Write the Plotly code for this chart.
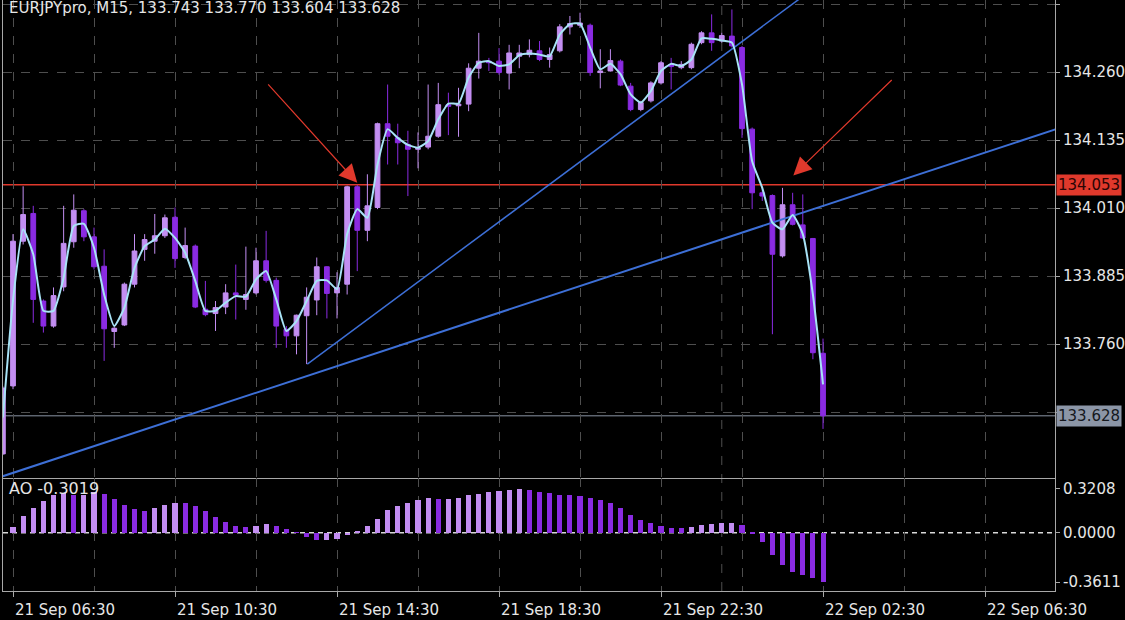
import pandas as pd
import plotly.graph_objects as go

# ---------------- data ----------------
bar_times = pd.date_range("2017-09-21 06:15", periods=82, freq="15min")

opens = [133.558, 133.683, 133.949, 134.000, 133.839, 133.793, 133.865, 133.948, 134.005, 133.957,
         133.903, 133.783, 133.795, 133.870, 133.934, 133.949, 133.959, 133.993, 133.919, 133.940,
         133.824, 133.816, 133.828, 133.854, 133.842, 133.854, 133.913, 133.877, 133.787, 133.775,
         133.812, 133.841, 133.902, 133.854, 133.870, 134.049, 133.969, 134.011, 134.165, 134.139,
         134.127, 134.118, 134.122, 134.142, 134.200, 134.198, 134.201, 134.267, 134.280, 134.280,
         134.258, 134.289, 134.292, 134.299, 134.283, 134.299, 134.343, 134.346, 134.346, 134.259,
         134.262, 134.280, 134.234, 134.191, 134.207, 134.240, 134.274, 134.268, 134.268, 134.314,
         134.332, 134.317, 134.326, 134.305, 134.155, 134.038, 134.033, 133.922, 134.016, 133.979,
         133.954, 133.743]
highs = [133.682, 133.962, 134.050, 134.014, 133.842, 133.864, 134.014, 134.035, 134.008, 133.974,
         133.934, 133.791, 133.873, 133.962, 133.962, 133.999, 133.998, 134.011, 133.974, 133.943,
         133.876, 133.839, 133.870, 133.906, 133.939, 133.937, 133.968, 133.882, 133.793, 133.814,
         133.864, 133.919, 133.903, 133.892, 134.051, 134.052, 134.072, 134.167, 134.237, 134.165,
         134.152, 134.149, 134.237, 134.240, 134.222, 134.231, 134.276, 134.332, 134.286, 134.304,
         134.310, 134.310, 134.320, 134.317, 134.305, 134.348, 134.363, 134.369, 134.349, 134.302,
         134.302, 134.283, 134.240, 134.207, 134.243, 134.280, 134.286, 134.280, 134.314, 134.335,
         134.366, 134.332, 134.375, 134.308, 134.158, 134.047, 134.035, 134.047, 134.038, 134.035,
         133.955, 133.770]
lows = [133.556, 133.677, 133.943, 133.799, 133.781, 133.790, 133.857, 133.937, 133.949, 133.897,
        133.729, 133.753, 133.793, 133.864, 133.913, 133.926, 133.955, 133.900, 133.916, 133.826,
        133.811, 133.784, 133.815, 133.805, 133.823, 133.851, 133.873, 133.753, 133.753, 133.741,
        133.723, 133.813, 133.807, 133.807, 133.851, 133.894, 133.949, 134.008, 134.090, 134.090,
        134.032, 134.083, 134.118, 134.139, 134.144, 134.141, 134.188, 134.248, 134.262, 134.255,
        134.228, 134.267, 134.287, 134.280, 134.268, 134.296, 134.329, 134.341, 134.253, 134.230,
        134.261, 134.234, 134.188, 134.188, 134.204, 134.237, 134.228, 134.265, 134.265, 134.311,
        134.299, 134.314, 134.305, 134.139, 134.008, 134.023, 133.778, 133.919, 133.978, 133.953,
        133.732, 133.604]
closes = [133.679, 133.949, 133.998, 133.842, 133.793, 133.849, 133.945, 134.006, 133.957, 133.902,
          133.788, 133.789, 133.870, 133.931, 133.952, 133.959, 133.992, 133.917, 133.941, 133.828,
          133.814, 133.827, 133.854, 133.850, 133.851, 133.913, 133.877, 133.793, 133.775, 133.813,
          133.846, 133.902, 133.853, 133.864, 134.049, 133.969, 134.014, 134.165, 134.142, 134.130,
          134.118, 134.120, 134.142, 134.200, 134.197, 134.201, 134.267, 134.280, 134.277, 134.259,
          134.295, 134.295, 134.300, 134.283, 134.292, 134.343, 134.349, 134.350, 134.259, 134.262,
          134.281, 134.236, 134.191, 134.204, 134.240, 134.277, 134.270, 134.274, 134.311, 134.332,
          134.314, 134.327, 134.308, 134.156, 134.038, 134.032, 133.925, 134.016, 133.980, 133.955,
          133.744, 133.628]
ma_values = [133.625, 133.840, 133.971, 133.925, 133.821, 133.821, 133.882, 133.977, 133.981, 133.937,
             133.851, 133.793, 133.827, 133.900, 133.940, 133.952, 133.972, 133.955, 133.928, 133.876,
             133.821, 133.821, 133.836, 133.848, 133.847, 133.879, 133.894, 133.842, 133.784, 133.802,
             133.839, 133.876, 133.877, 133.861, 133.962, 134.008, 133.992, 134.090, 134.155, 134.139,
             134.126, 134.121, 134.133, 134.173, 134.202, 134.202, 134.250, 134.277, 134.280, 134.271,
             134.274, 134.291, 134.294, 134.292, 134.289, 134.329, 134.348, 134.349, 134.305, 134.265,
             134.275, 134.256, 134.219, 134.204, 134.225, 134.262, 134.275, 134.271, 134.283, 134.322,
             134.321, 134.318, 134.314, 134.237, 134.096, 134.047, 133.983, 133.971, 133.997, 133.962,
             133.851, 133.686]
ao_values = [None, 0.042, 0.122, 0.183, 0.232, 0.276, 0.293, 0.276, 0.279, 0.298,
             0.281, 0.244, 0.200, 0.174, 0.161, 0.178, 0.203, 0.220, 0.218, 0.196,
             0.161, 0.115, 0.078, 0.049, 0.042, 0.049, 0.061, 0.049, 0.024, 0.004,
             -0.029, -0.056, -0.054, -0.049, -0.020, 0.012, 0.049, 0.098, 0.164, 0.193,
             0.220, 0.240, 0.252, 0.247, 0.249, 0.254, 0.274, 0.286, 0.296, 0.306,
             0.316, 0.3208, 0.310, 0.300, 0.290, 0.279, 0.276, 0.269, 0.257, 0.240,
             0.218, 0.181, 0.130, 0.093, 0.068, 0.049, 0.034, 0.032, 0.042, 0.056,
             0.061, 0.071, 0.072, 0.056, -0.005, -0.071, -0.164, -0.235, -0.286, -0.308,
             -0.333, -0.3611]

price_ticks = [134.385, 134.260, 134.135, 134.010, 133.885, 133.760, 133.635]
price_tick_labels = ["134.385", "134.260", "134.135", "134.010", "133.885", "133.760", ""]
ao_ticks = [0.3208, 0.0, -0.3611]
ao_tick_labels = ["0.3208", "0.0000", "-0.3611"]
time_ticks = ["2017-09-21 06:30", "2017-09-21 10:30", "2017-09-21 14:30", "2017-09-21 18:30",
              "2017-09-21 22:30", "2017-09-22 02:30", "2017-09-22 06:30"]
time_labels = ["21 Sep 06:30", "21 Sep 10:30", "21 Sep 14:30", "21 Sep 18:30",
               "21 Sep 22:30", "22 Sep 02:30", "22 Sep 06:30"]
grid_times = ["2017-09-21 06:30", "2017-09-21 08:30", "2017-09-21 10:30", "2017-09-21 12:30",
              "2017-09-21 14:30", "2017-09-21 16:30", "2017-09-21 18:30", "2017-09-21 20:30",
              "2017-09-21 22:30", "2017-09-22 00:30", "2017-09-22 02:30", "2017-09-22 04:30",
              "2017-09-22 06:30", "2017-09-22 08:30"]
half_times = ["2017-09-21 08:30", "2017-09-21 12:30", "2017-09-21 16:30", "2017-09-21 20:30",
              "2017-09-22 00:30", "2017-09-22 04:30", "2017-09-22 08:30"]

trend_a_times = ["2017-09-21 13:46", "2017-09-22 02:00"]
trend_a_prices = [133.723, 134.399]
trend_b_times = ["2017-09-21 06:15", "2017-09-22 08:30"]
trend_b_prices = [133.517, 134.161]
level_price = 134.053
last_price = 133.628
day_separator = "2017-09-22 00:00"
arrow_tips = [("2017-09-21 15:00", 134.0565), ("2017-09-22 01:46", 134.070)]
arrow_tails = [("2017-09-21 12:46", 134.240), ("2017-09-22 04:14", 134.248)]

title_text = "EURJPYpro, M15, 133.743 133.770 133.604 133.628"
ao_text = "AO -0.3019"

# ---------------- style ----------------
FONT = "DejaVu Sans"
LIGHT = "#c38ef2"
DARK = "#8a2be2"
GRID = "#4e4e4e"
AXLINE = "#a8a8a8"
RED = "#e0392c"
BLUE = "#3d6fd6"
TXT = "#e6e6e6"
x_range = ["2017-09-21 06:15:11", "2017-09-22 08:13:39"]

ao_colors = []
prev = None
for v in ao_values:
    if v is None:
        ao_colors.append(LIGHT)
        continue
    ao_colors.append(LIGHT if (prev is None or v > prev) else DARK)
    prev = v

fig = go.Figure()

fig.add_trace(go.Candlestick(
    x=bar_times, open=opens, high=highs, low=lows, close=closes,
    increasing=dict(line=dict(color=LIGHT, width=1), fillcolor=LIGHT),
    decreasing=dict(line=dict(color=DARK, width=1), fillcolor=DARK),
    xaxis="x", yaxis="y", hoverinfo="skip"))

fig.add_trace(go.Scatter(x=trend_b_times, y=trend_b_prices, mode="lines",
                         line=dict(color=BLUE, width=2), xaxis="x", yaxis="y", hoverinfo="skip"))
fig.add_trace(go.Scatter(x=trend_a_times, y=trend_a_prices, mode="lines",
                         line=dict(color=BLUE, width=1.5), xaxis="x", yaxis="y", hoverinfo="skip"))
fig.add_trace(go.Scatter(x=bar_times, y=ma_values, mode="lines",
                         line=dict(color="#a8e3f6", width=2, shape="spline", smoothing=0.5),
                         xaxis="x", yaxis="y", hoverinfo="skip"))

fig.add_trace(go.Bar(x=bar_times, y=ao_values, marker=dict(color=ao_colors, line=dict(width=0)),
                     width=450000, xaxis="x2", yaxis="y2", hoverinfo="skip"))

shapes = [
    dict(type="line", xref="paper", x0=0, x1=1, yref="y", y0=level_price, y1=level_price,
         line=dict(color=RED, width=1.5), layer="between"),
    dict(type="line", xref="paper", x0=0, x1=1, yref="y", y0=last_price, y1=last_price,
         line=dict(color="#8a93a3", width=1), layer="between"),
    dict(type="line", xref="x", x0=day_separator, x1=day_separator, yref="paper", y0=0, y1=1,
         line=dict(color=GRID, width=1, dash="dash"), layer="below"),
    dict(type="line", xref="paper", x0=0, x1=1, yref="y2", y0=0, y1=0,
         line=dict(color="#d8d8d8", width=1.5, dash="5px,4px"), layer="between"),
]

annotations = [
    dict(text=title_text, xref="paper", x=0, xanchor="left", xshift=4, yref="paper", y=1,
         yanchor="top", yshift=3, showarrow=False, font=dict(family=FONT, size=15, color=TXT)),
    dict(text=ao_text, xref="paper", x=0, xanchor="left", xshift=4, yref="y2 domain", y=1,
         yanchor="top", yshift=1, showarrow=False, font=dict(family=FONT, size=16, color=TXT)),
    dict(text=f"{level_price:.3f}", xref="paper", x=1, xanchor="left", xshift=1, yref="y",
         y=level_price, yanchor="middle", showarrow=False, bgcolor=RED, borderpad=1,
         font=dict(family=FONT, size=15, color="#2a0505")),
    dict(text=f"{last_price:.3f}", xref="paper", x=1, xanchor="left", xshift=1, yref="y",
         y=last_price, yanchor="middle", showarrow=False, bgcolor="#8c96a7", borderpad=1,
         font=dict(family=FONT, size=15, color="#15181d")),
]
for (tx, ty), (sx, sy) in zip(arrow_tips, arrow_tails):
    annotations.append(dict(text="", x=tx, y=ty, xref="x", yref="y", ax=sx, ay=sy,
                            axref="x", ayref="y", showarrow=True, arrowhead=2, arrowsize=3,
                            arrowwidth=1.2, arrowcolor=RED, standoff=0))

tick_font = dict(family=FONT, size=15, color=TXT)
fig.update_layout(
    width=1125, height=620,
    paper_bgcolor="black", plot_bgcolor="black",
    margin=dict(l=3, r=70, t=0, b=29),
    showlegend=False, boxgap=0.33, bargap=0,
    shapes=shapes, annotations=annotations,
    xaxis=dict(type="date", domain=[0, 1], anchor="y", range=x_range,
               rangeslider=dict(visible=False), showticklabels=False,
               tickmode="array", tickvals=grid_times, ticks="",
               showgrid=True, gridcolor=GRID, griddash="dash", gridwidth=1,
               showline=True, linecolor=AXLINE, linewidth=1, zeroline=False),
    yaxis=dict(domain=[0.1912, 1], anchor="x", side="right", range=[133.5137, 134.3924],
               tickmode="array", tickvals=price_ticks, ticktext=price_tick_labels,
               showgrid=True, gridcolor=GRID, griddash="dash", gridwidth=1,
               ticks="outside", ticklen=4, tickcolor=AXLINE,
               showline=True, mirror=True, linecolor=AXLINE, zeroline=False, tickfont=tick_font),
    xaxis2=dict(type="date", domain=[0, 1], anchor="y2", range=x_range,
                tickmode="array", tickvals=time_ticks, ticktext=time_labels,
                ticks="outside", ticklen=5, tickcolor=AXLINE, ticklabelshift=52,
                showgrid=True, gridcolor=GRID, griddash="dash", gridwidth=1,
                minor=dict(tickmode="array", tickvals=half_times, showgrid=True,
                           gridcolor=GRID, griddash="dash", ticks=""),
                showline=True, linecolor=AXLINE, zeroline=False, tickfont=tick_font),
    yaxis2=dict(domain=[0, 0.1912], anchor="x2", side="right", range=[-0.427, 0.4014],
                tickmode="array", tickvals=ao_ticks, ticktext=ao_tick_labels,
                showgrid=False, ticks="outside", ticklen=4, tickcolor=AXLINE,
                showline=True, mirror=True, linecolor=AXLINE, zeroline=False, tickfont=tick_font),
)

fig.write_html("out.html", config={"displayModeBar": False},
               post_script="document.body.style.margin='0';document.body.style.overflow='hidden';")
